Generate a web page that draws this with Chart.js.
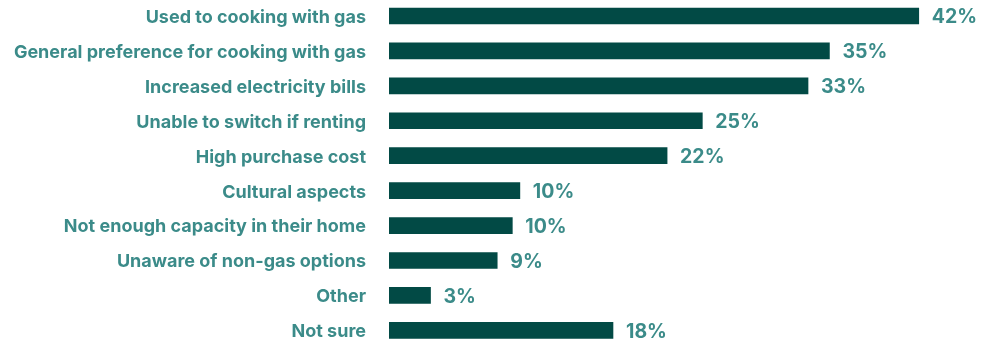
<!DOCTYPE html>
<html>
<head>
<meta charset="utf-8">
<script src="https://cdn.jsdelivr.net/npm/chart.js@4"></script>
<style>
html,body{margin:0;padding:0;background:#fff;overflow:hidden;}
#outer{width:993px;height:342px;position:relative;overflow:hidden;}
#wrap{width:993px;height:352px;position:absolute;left:0;top:-2px;}
</style>
</head>
<body>
<div id="outer"><div id="wrap"><canvas id="c"></canvas></div></div>
<script>
const categories = [
  "Used to cooking with gas",
  "General preference for cooking with gas",
  "Increased electricity bills",
  "Unable to switch if renting",
  "High purchase cost",
  "Cultural aspects",
  "Not enough capacity in their home",
  "Unaware of non-gas options",
  "Other",
  "Not sure"
];
const values = [42.1, 35.0, 33.3, 24.9, 22.1, 10.4, 9.8, 8.6, 3.3, 17.8];
const valueLabels = ["42%", "35%", "33%", "25%", "22%", "10%", "10%", "9%", "3%", "18%"];

const BAR = "#024a45";
const TEXT = "#3b8b89";

const valuePlugin = {
  id: "valueLabels",
  afterDatasetsDraw(chart) {
    const ctx = chart.ctx;
    const meta = chart.getDatasetMeta(0);
    ctx.save();
    ctx.fillStyle = TEXT;
    ctx.font = "bold 19.5px Inter";
    ctx.textAlign = "left";
    ctx.textBaseline = "middle";
    meta.data.forEach((bar, i) => {
      ctx.fillText(valueLabels[i], bar.x + 13, bar.y + 1.5);
    });
    ctx.restore();
  }
};

new Chart(document.getElementById("c"), {
  type: "bar",
  data: {
    labels: categories,
    datasets: [{
      data: values,
      backgroundColor: BAR,
      barThickness: 16,
      borderWidth: 0
    }]
  },
  options: {
    indexAxis: "y",
    responsive: true,
    maintainAspectRatio: false,
    animation: false,
    layout: { padding: { top: 0.5, bottom: 2.2, left: 0, right: 0 } },
    plugins: { legend: { display: false }, tooltip: { enabled: false } },
    scales: {
      x: { display: false, min: 0, max: 48 },
      y: {
        grid: { display: false, drawTicks: true, tickLength: 23 },
        border: { display: false },
        ticks: {
          color: TEXT,
          font: { family: "Inter", weight: "bold", size: 18, lineHeight: 0.01 },
          padding: 0,
          labelOffset: 1.5
        },
        afterFit(scale) { scale.width = 389; }
      }
    }
  },
  plugins: [valuePlugin]
});
</script>
</body>
</html>
